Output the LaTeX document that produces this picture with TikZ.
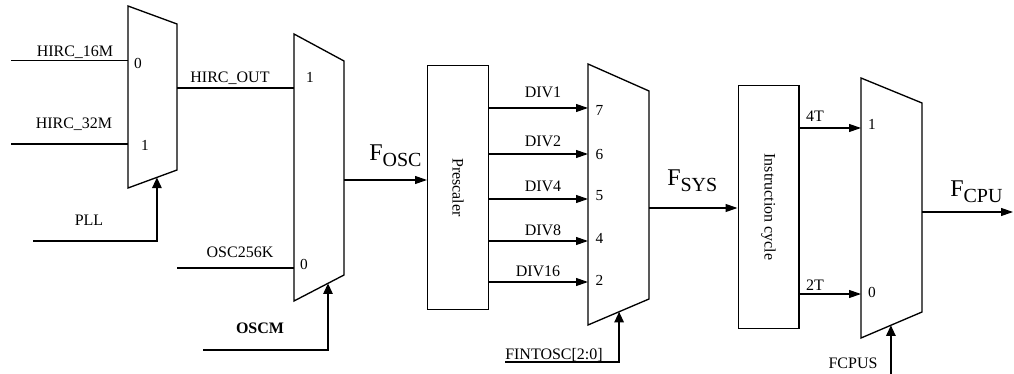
\documentclass[tikz,border=0pt]{standalone}
\usepackage{fontspec}
\setmainfont{Liberation Serif}
\usetikzlibrary{arrows.meta,positioning,calc}
\tikzset{
  wire/.style={line width=0.9pt},
  sig/.style={wire, -{Triangle[length=9pt,width=6pt]}},
  ctrl/.style={line width=1.4pt, -{Triangle[length=8pt,width=7pt]}},
  muxbody/.style={line width=1pt, line join=miter},
  blockbox/.style={draw, line width=1pt, inner sep=0pt, minimum width=45.5pt,
    minimum height=182.5pt, font=\fontsize{12}{12}\selectfont},
  lbl/.style={inner sep=0pt, anchor=base, font=\fontsize{12}{14}\selectfont},
  pin/.style={inner sep=0pt, anchor=base, font=\fontsize{11.5}{14}\selectfont},
  bigsig/.style={inner sep=0pt, anchor=base west}
}
\newcommand{\fclk}[1]{{\fontsize{18}{18}\selectfont F}{\fontsize{15}{15}\selectfont\raisebox{-4pt}{#1}}}

\begin{document}
\begin{tikzpicture}[x=0.75pt,y=-0.75pt]
    \useasboundingbox (0,0) rectangle (1014,374);

    % HIRC select mux
    \coordinate (m1a) at (128,6);
    \coordinate (m1b) at (177,24);
    \coordinate (m1c) at (177,170);
    \coordinate (m1d) at (128,188);
    \draw[muxbody] (m1a) -- (m1b) -- (m1c) -- (m1d) -- cycle;
    \node[pin] (m1p0) at (138,68.3) {0};
    \node[pin] (m1p1) at (145,150.7) {1};

    \coordinate (h16) at (11,60.7);
    \coordinate (h32) at (11,144);
    \draw[wire] (h16) -- (h16 -| m1a);
    \draw[wire] (h32) -- (h32 -| m1a);
    \node[lbl] (h16l) at (75,56.5) {HIRC\_16M};
    \node[lbl] (h32l) at (74,128.3) {HIRC\_32M};

    \coordinate (pll) at (33,241);
    \coordinate (m1s) at ($(m1d)!0.59!(m1c)$);
    \draw[ctrl] (pll) -| (m1s);
    \node[lbl] (plll) at (89,225.7) {PLL};

    % oscillator select mux
    \coordinate (m2a) at (294,34);
    \coordinate (m2b) at (344,61);
    \coordinate (m2c) at (344,275);
    \coordinate (m2d) at (294,301);
    \draw[muxbody] (m2a) -- (m2b) -- (m2c) -- (m2d) -- cycle;
    \node[pin] (m2p1) at (310,82.3) {1};
    \node[pin] (m2p0) at (304,269) {0};

    \coordinate (m1o) at (177,88);
    \draw[wire] (m1o) -- (m1o -| m2a);
    \node[lbl] (hout) at (230,82.7) {HIRC\_OUT};

    \coordinate (osck) at (177,268);
    \draw[wire] (osck) -- (osck -| m2a);
    \node[lbl] (osckl) at (240,257.7) {OSC256K};

    \coordinate (oscm) at (203,350);
    \coordinate (m2s) at ($(m2d)!0.68!(m2c)$);
    \draw[ctrl] (oscm) -| (m2s);
    \node[lbl, font=\fontsize{12}{14}\selectfont\bfseries] (oscml) at (260,333.3) {OSCM};

    % prescaler
    \node[blockbox] (pre) at (458,187.5) {\rotatebox{-90}{Prescaler}};
    \coordinate (m2o) at (344,180);
    \draw[sig] (m2o) -- (m2o -| pre.west);
    \node[bigsig] (fosc) at (369,160.7) {\fclk{OSC}};

    % divider select mux
    \coordinate (m3a) at (588,64);
    \coordinate (m3b) at (649,91);
    \coordinate (m3c) at (649,299);
    \coordinate (m3d) at (588,325);
    \draw[muxbody] (m3a) -- (m3b) -- (m3c) -- (m3d) -- cycle;

    \coordinate (m3i7) at (588,108);
    \coordinate (m3i6) at (588,154);
    \coordinate (m3i5) at (588,199);
    \coordinate (m3i4) at (588,241);
    \coordinate (m3i2) at (588,282);
    \draw[sig] (m3i7 -| pre.east) -- (m3i7);
    \draw[sig] (m3i6 -| pre.east) -- (m3i6);
    \draw[sig] (m3i5 -| pre.east) -- (m3i5);
    \draw[sig] (m3i4 -| pre.east) -- (m3i4);
    \draw[sig] (m3i2 -| pre.east) -- (m3i2);
    \node[lbl] (div1) at (543,97.3) {DIV1};
    \node[lbl] (div2) at (543,146.7) {DIV2};
    \node[lbl] (div4) at (543,191.7) {DIV4};
    \node[lbl] (div8) at (543,235.7) {DIV8};
    \node[lbl] (div16) at (538,276) {DIV16};
    \node[pin] (m3p7) at (599.5,116) {7};
    \node[pin] (m3p6) at (599.5,159.3) {6};
    \node[pin] (m3p5) at (599.5,201) {5};
    \node[pin] (m3p4) at (599.5,243.3) {4};
    \node[pin] (m3p2) at (599.5,285) {2};

    \coordinate (fint) at (505,362);
    \coordinate (m3s) at ($(m3d)!0.51!(m3c)$);
    \draw[ctrl] (fint) -| (m3s);
    \node[lbl, anchor=base west] (fintl) at (505,359.5) {FINTOSC[2:0]};

    % instruction cycle
    \node[blockbox] (ins) at (768.5,207) {\rotatebox{-90}{Instruction cycle}};
    \coordinate (m3o) at (649,208);
    \draw[sig] (m3o) -- (m3o -| ins.west);
    \node[bigsig] (fsys) at (667,185.7) {\fclk{SYS}};

    % cpu clock mux
    \coordinate (m4a) at (861,78);
    \coordinate (m4b) at (922,103);
    \coordinate (m4c) at (922,312);
    \coordinate (m4d) at (861,338);
    \draw[muxbody] (m4a) -- (m4b) -- (m4c) -- (m4d) -- cycle;
    \node[pin] (m4p1) at (872,129.3) {1};
    \node[pin] (m4p0) at (872,297.3) {0};

    \coordinate (m4i1) at (861,128);
    \coordinate (m4i0) at (861,294);
    \draw[sig] (m4i1 -| ins.east) -- (m4i1);
    \draw[sig] (m4i0 -| ins.east) -- (m4i0);
    \node[lbl] (t4) at (815,121.7) {4T};
    \node[lbl] (t2) at (815,290) {2T};

    \coordinate (m4s) at ($(m4d)!0.49!(m4c)$);
    \coordinate (fcpus) at (m4s |- 0,374);
    \draw[ctrl] (fcpus) -- (m4s);
    \node[lbl] (fcpusl) at (853,368.3) {FCPUS};

    \coordinate (m4o) at (922,212);
    \coordinate (cpu) at (1013,212);
    \draw[sig] (m4o) -- (cpu);
    \node[bigsig] (fcpu) at (950,196.7) {\fclk{CPU}};
\end{tikzpicture}
\end{document}
